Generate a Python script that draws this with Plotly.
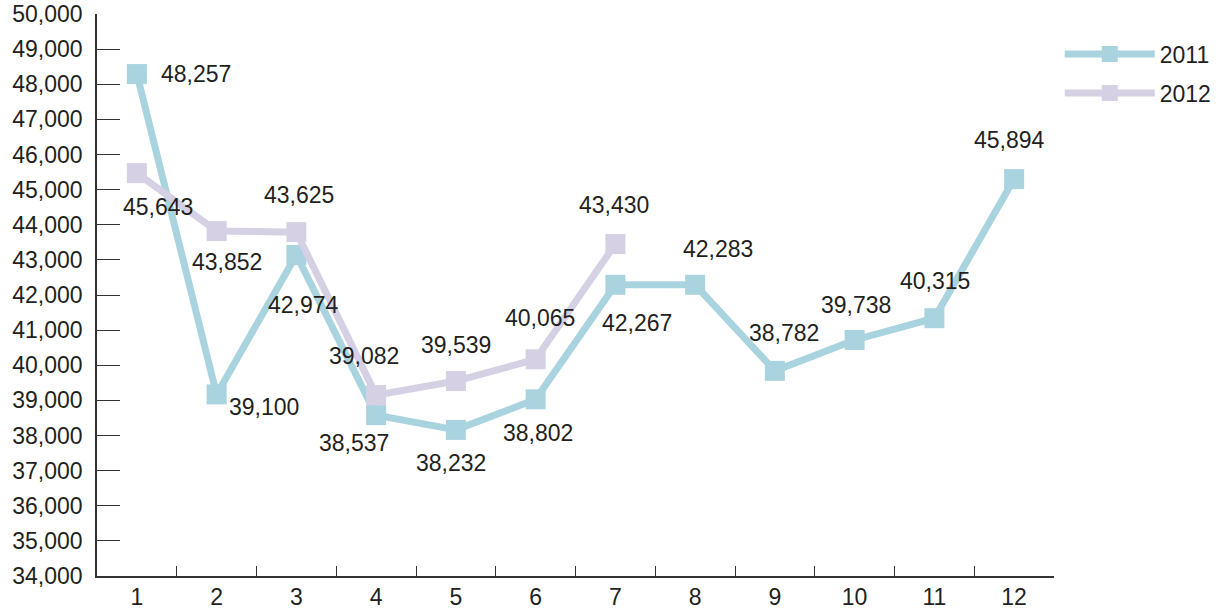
import plotly.graph_objects as go

months = ["1", "2", "3", "4", "5", "6", "7", "8", "9", "10", "11", "12"]

# plotted positions
y2011 = [48290, 39170, 43140, 38580, 38160, 39030, 42290, 42290, 39840, 40720, 41340, 45300]
y2012 = [45470, 43820, 43790, 39150, 39550, 40170, 43450]

# printed data labels (as printed in the picture)
lab2011 = ["48,257", "39,100", "42,974", "38,537", "38,232", "38,802", "42,267",
           "42,283", "38,782", "39,738", "40,315", "45,894"]
lab2012 = ["45,643", "43,852", "43,625", "39,082", "39,539", "40,065", "43,430"]

yticks = list(range(34000, 50001, 1000))

# label offsets (pixels, right / up)
off2011 = [(59, 0), (47, -13), (7, -50), (-22, -28), (-5, -33), (2, -34), (22, -38),
           (23, 36), (9, 38), (1, 35), (1, 37), (-5, 39)]
off2012 = [(21, -34), (10, -31), (3, 37), (-12, 39), (0, 36), (4, 41), (-1, 39)]

c2011 = "#aad3e0"
c2012 = "#d5d0e4"
font_family = "Liberation Sans, Arial, sans-serif"
fsize = 23

fig = go.Figure()
fig.add_trace(go.Scatter(
    x=months, y=y2011, name="2011", mode="lines+markers", legendgroup="a",
    line=dict(color=c2011, width=7),
    marker=dict(symbol="square", size=20, color=c2011),
    hoverinfo="skip",
))
fig.add_trace(go.Scatter(
    x=months[:len(y2012)], y=y2012, name="2012", mode="lines+markers", legendgroup="b",
    line=dict(color=c2012, width=7),
    marker=dict(symbol="square", size=20, color=c2012),
    hoverinfo="skip",
))

annos = []
for ys, labs, offs in [(y2011, lab2011, off2011), (y2012, lab2012, off2012)]:
    for i, (yv, t, (dx, dy)) in enumerate(zip(ys, labs, offs)):
        annos.append(dict(x=i, y=yv, xref="x", yref="y", text=t, showarrow=False,
                          xshift=dx, yshift=dy,
                          font=dict(family=font_family, size=fsize, color="#231f20")))

fig.update_layout(
    width=1222, height=609, autosize=False,
    margin=dict(l=97, r=168, t=14, b=33, autoexpand=False),
    paper_bgcolor="white", plot_bgcolor="white",
    font=dict(family=font_family, size=fsize, color="#231f20"),
    showlegend=True,
    legend=dict(x=1.006, y=0.967, xanchor="left", yanchor="top",
                font=dict(size=fsize), bgcolor="rgba(0,0,0,0)",
                traceorder="grouped", tracegroupgap=6, itemwidth=90),
    annotations=annos,
)
fig.update_xaxes(
    type="category", range=[-0.5, 11.5], automargin=False,
    showline=True, linecolor="#333333", linewidth=1.5,
    ticks="inside", tickson="boundaries", ticklen=10, tickcolor="#333333",
    showgrid=False, zeroline=False, fixedrange=True,
    tickfont=dict(size=fsize),
)
fig.update_yaxes(
    range=[34000, 50000], tickvals=yticks, tickformat=",", automargin=False,
    showline=True, linecolor="#333333", linewidth=1.5,
    ticks="inside", ticklen=23, tickcolor="#333333",
    showgrid=False, zeroline=False, fixedrange=True,
    tickfont=dict(size=fsize), ticklabelstandoff=8,
)

fig.write_html(
    "out.html",
    config={"displayModeBar": False, "responsive": False},
    post_script="document.body.style.margin='0';document.body.style.overflow='hidden';",
)
